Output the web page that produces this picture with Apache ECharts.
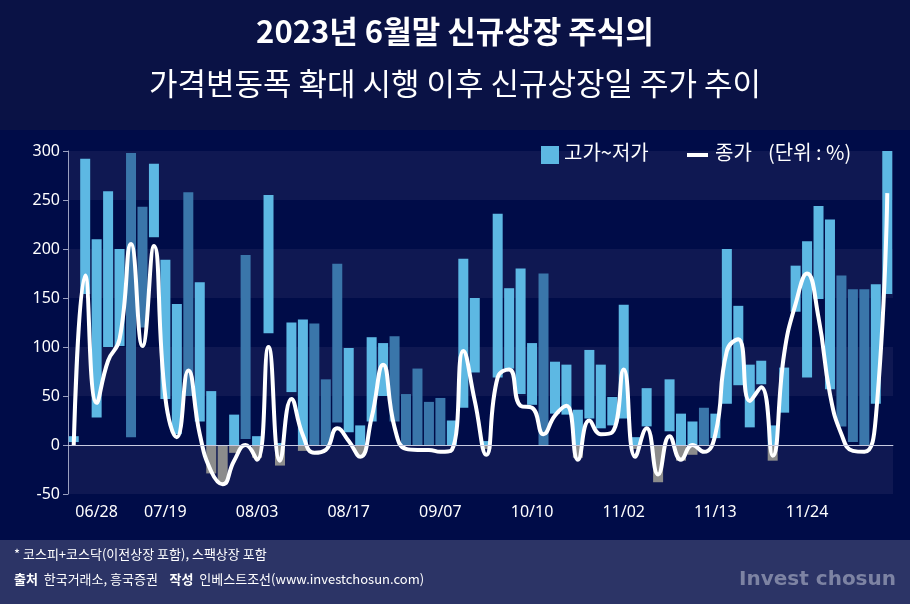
<script src="https://cdn.jsdelivr.net/npm/echarts@6/dist/echarts.min.js"></script>
<div id="main" style="width:910px;height:604px;margin:0;padding:0;"></div>
<style>body{margin:0;background:#000c48;}</style>
<script>
    // 고가 / 저가 / 종가 (%)
    var highs = [9,292,210,259,200,298,243,287,189,144,258,166,55,0,31,194,9,255,2,125,128,124,67,185,99,
        20,110,104,111,52,78,44,48,25,190,150,4,236,160,180,104,175,85,82,36,97,82,49,143,
        8,58,0,67,32,24,38,32,200,142,82,86,20,79,183,208,244,230,173,159,159,164,300];
    var lows = [3,154,28,100,101,8,120,212,47,11,50,24,-29,-40,-8,6,-13,114,-21,54,-6,0,0,23,13,
        -10,24,50,24,0,0,0,0,0,38,74,-4,69,78,52,41,0,32,31,-13,27,17,20,27,
        -4,19,-38,14,-16,-10,0,7,42,61,18,62,-16,33,136,69,149,57,19,3,0,42,154];
    var closes = [0,173,43,86,108,205,101,203,48,8,76,11,-27,-40,-16,0,-15,100,-16,47,10,-8,-5,17,4,
        -12,28,82,18,-4,-5,-5,-7,-5,96,45,-10,69,77,40,38,11,30,40,-15,25,11,13,77,
        -12,17,-30,9,-15,0,-7,11,96,108,45,59,-11,93,144,175,130,52,11,-6,-7,28,257];
    var darkBars = [6,7,11,16,22,23,24,29,30,31,32,33,42,56,68,69,70];
    var tickLabels = {3:'06/28',9:'07/19',17:'08/03',25:'08/17',33:'09/07',41:'10/10',49:'11/02',57:'11/13',65:'11/24'};

    var cats = highs.map(function (v, i) { return tickLabels[i + 1] || ('d' + (i + 1)); });
    var base = lows.map(function (v) { return Math.max(v, 0); });
    var neg = lows.map(function (v) { return Math.min(v, 0); });
    var range = highs.map(function (h, i) {
        return {
            value: h - Math.max(lows[i], 0),
            itemStyle: { color: darkBars.indexOf(i + 1) >= 0 ? '#3a76aa' : '#5db8e3' }
        };
    });
    var showTick = function (i) { return !!tickLabels[i + 1]; };
    var font = 'Noto Sans CJK KR';

    var myChart = echarts.init(document.getElementById('main'));
    var option = {
        backgroundColor: '#000c48',
        animation: false,
        graphic: [
            { type: 'rect', left: 0, top: 0, z: -1, shape: { width: 910, height: 130 }, style: { fill: '#0a1245' } },
            { type: 'text', left: 'center', top: 16, style: { text: '2023년 6월말 신규상장 주식의', fill: '#fff', fontSize: 31, fontWeight: 'bold', fontFamily: font } },
            { type: 'text', left: 'center', top: 68, style: { text: '가격변동폭 확대 시행 이후 신규상장일 주가 추이', fill: '#fff', fontSize: 31, fontFamily: font } },
            { type: 'rect', left: 0, top: 540, shape: { width: 910, height: 64 }, style: { fill: '#2c3466' } },
            { type: 'text', left: 14, top: 548, style: { text: '* 코스피+코스닥(이전상장 포함), 스팩상장 포함', fill: '#fff', fontSize: 13, fontFamily: font } },
            { type: 'text', left: 14, top: 573, style: { text: '{b|출처}  한국거래소, 흥국증권    {b|작성}  인베스트조선(www.investchosun.com)', fill: '#fff', fontSize: 13, fontFamily: font, rich: { b: { fontWeight: 'bold', fontSize: 13, fill: '#fff', fontFamily: font } } } },
            { type: 'text', right: 14, top: 570, style: { text: 'Invest chosun', fill: '#7d83a3', fontSize: 20, fontWeight: 'bold', fontFamily: 'DejaVu Sans' } },
            // legend
            { type: 'rect', zlevel: 1, x: 541, y: 146, shape: { width: 18, height: 18 }, style: { fill: '#5db8e3' } },
            { type: 'text', zlevel: 1, x: 564, y: 142, style: { text: '고가~저가', fill: '#fff', fontSize: 20, fontFamily: font } },
            { type: 'rect', zlevel: 1, x: 687, y: 153, shape: { width: 21, height: 4 }, style: { fill: '#fff' } },
            { type: 'text', zlevel: 1, x: 715, y: 142, style: { text: '종가', fill: '#fff', fontSize: 20, fontFamily: font } },
            { type: 'text', zlevel: 1, x: 768, y: 142, style: { text: '(단위 : %)', fill: '#fff', fontSize: 20, fontFamily: font } }
        ],
        grid: { left: 68, right: 17, top: 151, bottom: 110 },
        xAxis: {
            type: 'category', data: cats,
            axisLine: { lineStyle: { color: '#9aa0c0' } },
            axisTick: { alignWithLabel: true, interval: showTick, length: 8, lineStyle: { color: '#9aa0c0' } },
            axisLabel: { interval: showTick, color: '#fff', fontSize: 16, margin: 10, fontFamily: 'Noto Sans' }
        },
        yAxis: {
            type: 'value', min: -50, max: 300, interval: 50,
            axisLine: { show: true, lineStyle: { color: '#9aa0c0' } },
            axisTick: { show: true, lineStyle: { color: '#9aa0c0' } },
            axisLabel: { color: '#fff', fontSize: 16, fontFamily: 'Noto Sans' },
            splitLine: { show: false },
            splitArea: { show: true, areaStyle: { color: ['#0f1852', '#000c48'] } }
        },
        series: [
            { type: 'bar', stack: 'r', data: base, itemStyle: { color: 'transparent' }, barWidth: 10, silent: true },
            { type: 'bar', stack: 'r', data: neg, itemStyle: { color: '#8c8c8c' }, barWidth: 10 },
            { name: '고가~저가', type: 'bar', stack: 'r', data: range, itemStyle: { color: '#5db8e3' }, barWidth: 10 },
            {
                name: '종가', type: 'line', data: closes, smooth: 0.5, symbol: 'none',
                lineStyle: { color: '#fff', width: 4 }, itemStyle: { color: '#fff' },
                markLine: { silent: true, symbol: 'none', label: { show: false }, lineStyle: { color: '#c8cbe0', width: 1, type: 'solid' }, data: [{ yAxis: 0 }] }
            }
        ]
    };
    myChart.setOption(option);
</script>
